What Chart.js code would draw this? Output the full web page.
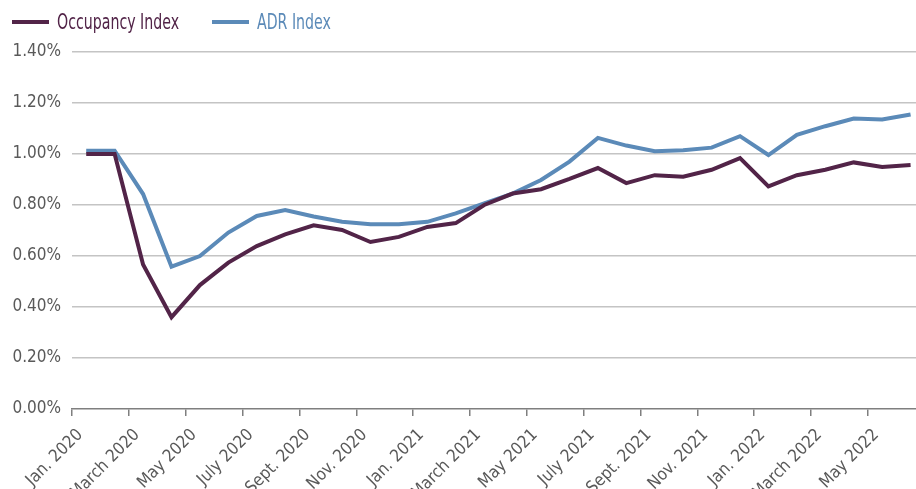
<!DOCTYPE html>
<html>
<head>
<meta charset="utf-8">
<script src="https://cdn.jsdelivr.net/npm/chart.js@4"></script>
<style>
  body { margin: 0; background: #fff; }
  #wrap { position: relative; width: 916px; height: 489px; overflow: hidden; }
  #legend { position: absolute; left: 0; top: 0; font-family: "DejaVu Sans Condensed", "DejaVu Sans", sans-serif; font-size: 21px; }
  .swatch { position: absolute; top: 20px; width: 37px; height: 4px; }
  .text { position: absolute; top: 9px; line-height: 26px; white-space: nowrap; transform: scaleX(0.75); transform-origin: left center; }
  canvas { position: absolute; left: 0; top: 0; }
</style>
</head>
<body>
<div id="wrap">
  <canvas id="chart" width="934" height="489"></canvas>
  <div id="legend"></div>
</div>
<script>
// monthly data, Jan 2020 - June 2022
const months = [
  'Jan 2020', 'Feb 2020', 'Mar 2020', 'Apr 2020', 'May 2020', 'Jun 2020',
  'Jul 2020', 'Aug 2020', 'Sep 2020', 'Oct 2020', 'Nov 2020', 'Dec 2020',
  'Jan 2021', 'Feb 2021', 'Mar 2021', 'Apr 2021', 'May 2021', 'Jun 2021',
  'Jul 2021', 'Aug 2021', 'Sep 2021', 'Oct 2021', 'Nov 2021', 'Dec 2021',
  'Jan 2022', 'Feb 2022', 'Mar 2022', 'Apr 2022', 'May 2022', 'Jun 2022'
];

// labels shown under every other month
const tickLabels = [
  'Jan. 2020', 'March 2020', 'May 2020', 'July 2020', 'Sept. 2020', 'Nov. 2020',
  'Jan. 2021', 'March 2021', 'May 2021', 'July 2021', 'Sept. 2021', 'Nov. 2021',
  'Jan. 2022', 'March 2022', 'May 2022'
];

const occupancyIndex = [
  1.00, 1.00, 0.567, 0.36, 0.486, 0.574, 0.639, 0.685, 0.72, 0.702, 0.655, 0.675,
  0.714, 0.729, 0.80, 0.845, 0.862, 0.902, 0.945, 0.886, 0.917, 0.911, 0.938, 0.984,
  0.873, 0.917, 0.938, 0.967, 0.949, 0.957
];

const adrIndex = [
  1.013, 1.013, 0.843, 0.558, 0.60, 0.692, 0.757, 0.78, 0.755, 0.734, 0.725, 0.725,
  0.734, 0.767, 0.806, 0.845, 0.898, 0.97, 1.063, 1.033, 1.011, 1.015, 1.025, 1.07,
  0.996, 1.075, 1.109, 1.139, 1.135, 1.155
];

const PURPLE = '#522448';
const BLUE = '#5b8ab8';
const FONT = '"DejaVu Sans Condensed", "DejaVu Sans", sans-serif';

const datasets = [
  { label: 'Occupancy Index', data: occupancyIndex, borderColor: PURPLE, backgroundColor: PURPLE },
  { label: 'ADR Index', data: adrIndex, borderColor: BLUE, backgroundColor: BLUE }
];

// legend as html so the spacing can follow the original
const legendPos = [12, 212];
document.querySelector('#legend').innerHTML = datasets.map((ds, i) => /* HTML */ `
  <div class="swatch" style="left:${legendPos[i]}px;background:${ds.borderColor}"></div>
  <div class="text" style="left:${legendPos[i] + 45}px;color:${ds.borderColor}">${ds.label}</div>
`).join('');

new Chart(document.querySelector('#chart'), {
  type: 'line',
  data: { labels: months, datasets },
  options: {
    responsive: false,
    animation: false,
    layout: { padding: { top: 52, left: 0, right: 0, bottom: 0 } },
    plugins: {
      legend: { display: false },
      tooltip: { enabled: false }
    },
    elements: {
      point: { radius: 0 },
      line: { borderWidth: 4, tension: 0, borderJoinStyle: 'miter' }
    },
    scales: {
      x: {
        offset: true,
        grid: {
          offset: true,
          drawOnChartArea: false,
          tickLength: 7,
          lineWidth: 1.5,
          color: (ctx) => (ctx.index % 2 === 0 ? '#7f7f7f' : 'rgba(0,0,0,0)')
        },
        border: { color: '#7f7f7f', width: 1.5 },
        ticks: {
          autoSkip: false,
          minRotation: 45,
          maxRotation: 45,
          padding: 9,
          labelOffset: -6,
          color: '#595959',
          font: { family: FONT, size: 17 },
          callback: (value, index) => (index % 2 === 0 ? tickLabels[index / 2] : '')
        },
        afterFit: (scale) => { scale.height = 80; }
      },
      y: {
        min: 0,
        max: 1.4,
        ticks: {
          stepSize: 0.2,
          padding: 11,
          color: '#595959',
          font: { family: FONT, size: 17 },
          callback: (value) => value.toFixed(2) + '%'
        },
        grid: {
          drawTicks: false,
          lineWidth: 1.5,
          color: (ctx) => (ctx.tick && ctx.tick.value === 0 ? 'rgba(0,0,0,0)' : '#c4c4c4')
        },
        border: { display: false },
        afterFit: (scale) => { scale.width = 72; }
      }
    }
  }
});
</script>
</body>
</html>
